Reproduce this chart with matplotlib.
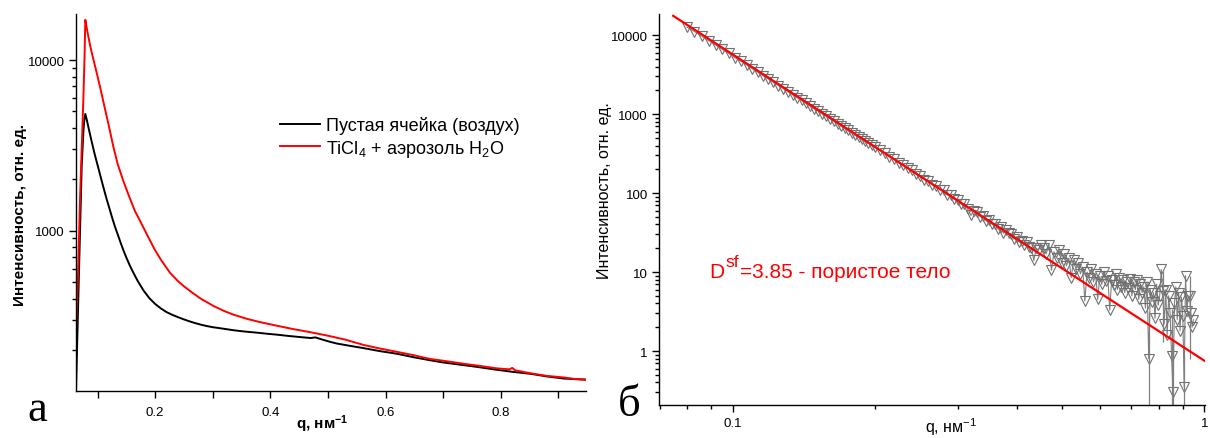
import numpy as np
import matplotlib
matplotlib.use('Agg')
import matplotlib.pyplot as plt
from matplotlib import ticker

plt.rcParams['font.family'] = ['Liberation Sans', 'DejaVu Sans']
plt.rcParams['mathtext.fontset'] = 'custom'
plt.rcParams['mathtext.rm'] = 'Liberation Sans'
plt.rcParams['mathtext.it'] = 'Liberation Sans'
plt.rcParams['mathtext.bf'] = 'Liberation Sans:bold'
plt.rcParams['mathtext.default'] = 'regular'

# ---------------- panel а: raw curves ----------------
q_empty = [0.0625, 0.0665, 0.0695, 0.0724, 0.0755, 0.0770, 0.0787, 0.0810, 0.0840, 0.0870,
           0.0900, 0.0930, 0.0960, 0.1000, 0.1040, 0.1080, 0.1120, 0.1160, 0.1200, 0.1250,
           0.1300, 0.1350, 0.1400, 0.1450, 0.1500, 0.1560, 0.1620, 0.1700, 0.1800, 0.1900,
           0.2000, 0.2100, 0.2200, 0.2300, 0.2400, 0.2500, 0.2600, 0.2700, 0.2800, 0.2900,
           0.3000, 0.3200, 0.3360, 0.3530, 0.3800, 0.3940, 0.4110, 0.4300, 0.4520, 0.4700,
           0.4780, 0.4850, 0.5040, 0.5160, 0.5400, 0.5620, 0.5900, 0.6200, 0.6500, 0.6780,
           0.7000, 0.7360, 0.7600, 0.7940, 0.8200, 0.8520, 0.8800, 0.9100, 0.9300, 0.9480]
I_empty = [115, 400, 1000, 2400, 3900, 4450, 4830, 4500, 4050, 3650,
           3300, 2990, 2720, 2420, 2150, 1910, 1700, 1520, 1370, 1200,
           1060, 950, 850, 765, 695, 625, 568, 505, 445, 402,
           372, 350, 333, 321, 311, 302, 294, 287, 281, 276,
           272, 266, 261, 257, 252, 249, 246, 242, 238, 235,
           237, 233, 223, 218, 211, 205, 197, 190, 181, 174,
           169, 163, 159, 153, 149, 145, 140, 136, 135, 134]

q_ticl4 = [0.0625, 0.0665, 0.0695, 0.0724, 0.0753, 0.0775, 0.0787, 0.0810, 0.0840, 0.0870,
           0.0900, 0.0930, 0.0960, 0.1000, 0.1050, 0.1100, 0.1150, 0.1200, 0.1274, 0.1350,
           0.1448, 0.1550, 0.1650, 0.1738, 0.1850, 0.1987, 0.2100, 0.2260, 0.2400, 0.2500,
           0.2665, 0.2800, 0.3013, 0.3200, 0.3360, 0.3600, 0.3825, 0.4100, 0.4400, 0.4700,
           0.4985, 0.5300, 0.5620, 0.5900, 0.6200, 0.6500, 0.6780, 0.7000, 0.7360, 0.7600,
           0.7940, 0.8150, 0.8200, 0.8250, 0.8520, 0.8800, 0.9100, 0.9300, 0.9480]
I_ticl4 = [258, 625, 1530, 3015, 5900, 11000, 17200, 15500, 13700, 12200,
           11000, 10000, 9100, 8000, 6800, 5700, 4800, 4050, 3100, 2450,
           1950, 1580, 1300, 1140, 960, 780, 675, 565, 505, 472,
           428, 398, 362, 338, 322, 304, 291, 278, 265, 254,
           243, 230, 214, 204, 195, 186, 177, 173, 166, 162,
           156, 154, 157, 152, 146, 141, 138, 135, 134]

legend_labels = ['Пустая ячейка (воздух)', 'TiCl$_4$ + аэрозоль H$_2$O']

# ---------------- panel б: log-log data and fit ----------------
q_dat = [0.080, 0.083, 0.086, 0.089, 0.092, 0.095, 0.098, 0.101, 0.104, 0.107,
         0.110, 0.113, 0.116, 0.119, 0.122, 0.125, 0.128, 0.131, 0.134, 0.137,
         0.140, 0.143, 0.146, 0.149, 0.152, 0.155, 0.158, 0.161, 0.164, 0.167,
         0.170, 0.173, 0.176, 0.179, 0.182, 0.185, 0.188, 0.191, 0.194, 0.197, 0.200,
         0.205, 0.210, 0.215, 0.220, 0.225, 0.230, 0.235, 0.240, 0.245, 0.250,
         0.255, 0.260, 0.265, 0.270, 0.275, 0.280, 0.285, 0.290, 0.295, 0.300,
         0.305, 0.310, 0.315, 0.320, 0.325, 0.330, 0.335, 0.340, 0.345, 0.350,
         0.355, 0.360, 0.365, 0.370, 0.375, 0.380, 0.385, 0.390, 0.395, 0.400,
         0.405, 0.410, 0.415, 0.420, 0.425, 0.430, 0.435, 0.440, 0.445, 0.450,
         0.456, 0.462, 0.468, 0.474, 0.480, 0.486, 0.492, 0.498, 0.504, 0.510,
         0.516, 0.522, 0.528, 0.534, 0.540, 0.546, 0.552, 0.558, 0.564, 0.570,
         0.576, 0.582, 0.588, 0.594, 0.600, 0.606, 0.612, 0.618, 0.624, 0.630,
         0.636, 0.642, 0.648, 0.654, 0.660, 0.666, 0.672, 0.678, 0.684, 0.690,
         0.696, 0.702, 0.708, 0.714, 0.720, 0.726, 0.732, 0.738, 0.744, 0.750,
         0.756, 0.762, 0.768, 0.774, 0.780, 0.786, 0.792, 0.798, 0.804, 0.810,
         0.816, 0.822, 0.828, 0.834, 0.840, 0.846, 0.852, 0.858, 0.864, 0.870,
         0.876, 0.882, 0.888, 0.894, 0.900, 0.906, 0.912, 0.918, 0.924, 0.930,
         0.936, 0.942, 0.948]
I_dat = [12600, 11100, 9700, 8500, 7500, 6600, 5900, 5200, 4700, 4200,
         3750, 3400, 3050, 2780, 2520, 2300, 2100, 1920, 1760, 1620,
         1490, 1370, 1270, 1170, 1090, 1010, 935, 870, 810, 757,
         707, 662, 620, 580, 545, 512, 482, 455, 428, 405, 382,
         350, 322, 290, 270, 243, 228, 205, 195, 174, 166,
         148, 143, 128, 124, 110, 108, 95, 94, 83, 82,
         72, 73, 63, 52, 60, 57, 50, 51, 44, 46,
         40, 41, 35, 37, 31, 34, 31, 30, 26, 28,
         24, 25, 22, 24, 21, 20, 14, 20, 19, 22,
         20, 17, 22, 10.5, 18, 15, 19, 13, 17, 12,
         15, 8.5, 14, 11, 13, 9.5, 11.5, 4.3, 10, 8.5,
         11, 7.5, 9.5, 4.5, 8.8, 7, 10, 7.8, 9, 3.3,
         8, 6.8, 9.5, 6, 8.5, 6.5, 8, 5.5, 7.5, 6.2,
         8.2, 5, 7.5, 6, 8, 4.5, 7, 5.5, 6.5, 3.5,
         7.5, 0.8, 6, 4.2, 5.5, 2.6, 7, 3.8, 5, 10.8,
         5.8, 2.2, 6, 1.6, 5, 3, 0.87, 0.3, 4, 6.5,
         2.5, 5.5, 1.8, 4.8, 2.8, 0.35, 9, 3.2, 5, 4.9,
         3, 2, 2.5]

eb_q = [0.762, 0.816, 0.852, 0.858, 0.906, 0.930]
eb_I = [0.8, 5.8, 0.87, 0.3, 0.35, 4.9]
eb_err = [2.3, 4.5, 2.5, 1.1, 0.52, 4.1]

q_fit = [0.0748, 1.0]
I_fit = [17550, 0.753]
fit_text = ['D', 'sf', '=3.85 - пористое тело']

W, H = 1210, 439
RED = '#ff0000'
fig = plt.figure(figsize=(W / 100, H / 100), dpi=100)

def frac_box(l, r, t, b):
    return [l / W, 1 - b / H, (r - l) / W, (b - t) / H]

axA = fig.add_axes(frac_box(75.7, 586, 15, 392))
axB = fig.add_axes(frac_box(659, 1205, 15, 405.7))

for ax in (axA, axB):
    for s in ('top', 'right'):
        ax.spines[s].set_visible(False)
    for s in ('left', 'bottom'):
        ax.spines[s].set_linewidth(1.0)
    ax.tick_params(which='major', direction='out', length=5, width=1.0, labelsize=9.5, pad=3)
    ax.tick_params(which='minor', direction='out', length=2.6, width=1.0)

# panel а
axA.plot(q_empty, I_empty, color='black', lw=1.4)
axA.plot(q_ticl4, I_ticl4, color=RED, lw=1.4)
axA.set_yscale('log')
axA.set_xlim(0.062, 0.948)
axA.set_ylim(115, 18600)
axA.xaxis.set_major_locator(ticker.MultipleLocator(0.2))
axA.xaxis.set_minor_locator(ticker.MultipleLocator(0.1))
axA.xaxis.set_major_formatter(ticker.FormatStrFormatter('%.1f'))
axA.yaxis.set_major_locator(ticker.LogLocator(base=10))
axA.yaxis.set_minor_locator(ticker.LogLocator(base=10, subs=np.arange(2, 10)))
axA.yaxis.set_major_formatter(ticker.FuncFormatter(lambda v, p: f'{v:.0f}'))
axA.yaxis.set_minor_formatter(ticker.NullFormatter())
axA.tick_params(axis='x', which='major', pad=6)
axA.tick_params(axis='x', which='minor', length=5)
leg = axA.legend(axA.get_lines(), legend_labels, loc='upper left',
                 bbox_to_anchor=((280 - 75.7) / 510.3, (392 - 117) / 377),
                 frameon=False, fontsize=13, handlelength=2.2, handletextpad=0.35,
                 labelspacing=0.2, borderpad=0, borderaxespad=0)

# panel б
axB.plot(q_dat, I_dat, color='#808080', lw=0.8, marker='v', markersize=7,
         markerfacecolor='none', markeredgecolor='#707070', markeredgewidth=0.8, zorder=2)
eb_lo = np.maximum(np.array(eb_I) - np.array(eb_err), 1e-3)
eb_hi = np.array(eb_I) + np.array(eb_err)
axB.vlines(eb_q, eb_lo, eb_hi, color='#808080', lw=0.9, zorder=2)
axB.plot(q_fit, I_fit, color=RED, lw=1.6, zorder=3)
axB.set_xscale('log')
axB.set_yscale('log')
axB.set_xlim(0.0698, 1.003)
axB.set_ylim(0.209, 18500)
axB.xaxis.set_major_formatter(ticker.FuncFormatter(lambda v, p: f'{v:g}'))
axB.xaxis.set_minor_formatter(ticker.NullFormatter())
axB.yaxis.set_major_locator(ticker.LogLocator(base=10))
axB.yaxis.set_minor_locator(ticker.LogLocator(base=10, subs=np.arange(2, 10)))
axB.yaxis.set_major_formatter(ticker.FuncFormatter(lambda v, p: f'{v:g}'))
axB.yaxis.set_minor_formatter(ticker.NullFormatter())
axB.tick_params(axis='x', which='major', pad=4)

# labels
fig.text(20 / W, 1 - 215 / H, 'Интенсивность, отн. ед.', rotation=90, ha='center', va='center',
         fontsize=11, fontweight='bold')
fig.text(322 / W, 1 - 424 / H, r'q, нм$^{\mathbf{-1}}$', ha='center', va='center',
         fontsize=11, fontweight='bold')
fig.text(604 / W, 1 - 191 / H, 'Интенсивность, отн. ед.', rotation=90, ha='center', va='center',
         fontsize=11.5)
fig.text(951 / W, 1 - 427 / H, 'q, нм$^{-1}$', ha='center', va='center', fontsize=11.5)

# fit annotation, built from three pieces so the superscript is large
r = fig.canvas.get_renderer()
x0 = 709.0
t1 = fig.text(x0 / W, 1 - 278 / H, fit_text[0], ha='left', va='baseline', fontsize=15, color=RED)
x1 = x0 + t1.get_window_extent(r).width + 1.5
t2 = fig.text(x1 / W, 1 - 267 / H, fit_text[1], ha='left', va='baseline', fontsize=12.5, color=RED)
x2 = x1 + t2.get_window_extent(r).width + 0.5
fig.text(x2 / W, 1 - 278 / H, fit_text[2], ha='left', va='baseline', fontsize=15, color=RED)

fig.text(37 / W, 1 - 410 / H, 'а', ha='center', va='center', fontsize=32, family='Liberation Serif')
fig.text(629 / W, 1 - 405 / H, 'б', ha='center', va='center', fontsize=32, family='Liberation Serif')

fig.savefig('out.png', dpi=100)
